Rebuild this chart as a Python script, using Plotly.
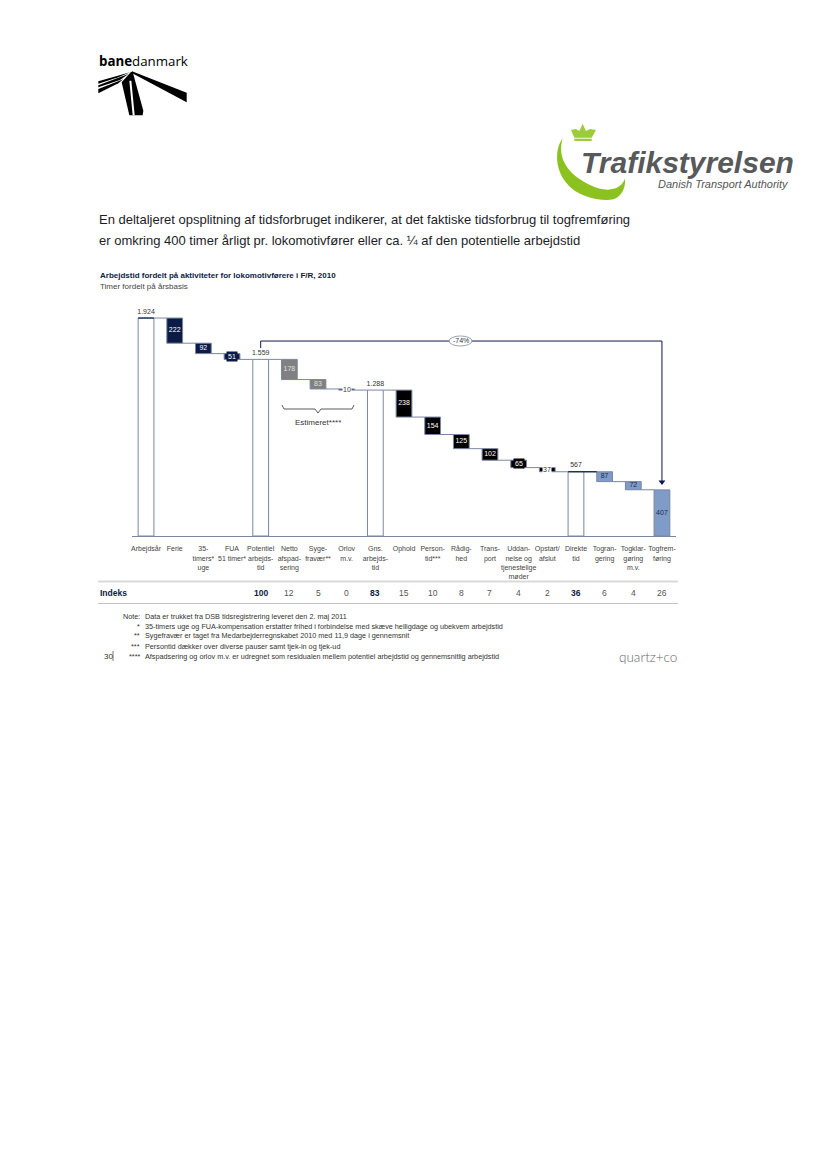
import plotly.graph_objects as go

W, H = 827, 1169
M = 8  # the page keeps its default body margin
FONT = "Liberation Sans"

categories = ["Arbejdsår", "Ferie", "35-<br>timers*<br>uge", "FUA<br>51 timer*", "Potentiel<br>arbejds-<br>tid",
              "Netto<br>afspad-<br>sering", "Syge-<br>fravær**", "Orlov<br>m.v.", "Gns.<br>arbejds-<br>tid",
              "Ophold", "Person-<br>tid***", "Rådig-<br>hed", "Trans-<br>port",
              "Uddan-<br>nelse og<br>tjenestelige<br>møder", "Opstart/<br>afslut", "Direkte<br>tid",
              "Togran-<br>gering", "Togklar-<br>gøring<br>m.v.", "Togfrem-<br>føring"]
values = [1924, 222, 92, 51, 1559, 178, 83, 10, 1288, 238, 154, 125, 102, 65, 37, 567, 87, 72, 407]
value_labels = ["1.924", "222", "92", "51", "1.559", "178", "83", "10", "1.288", "238", "154", "125",
                "102", "65", "37", "567", "87", "72", "407"]
kinds = ["total", "d", "d", "d", "total", "d", "d", "d", "total", "d", "d", "d", "d", "d", "d", "total", "d", "d", "blue"]
index_values = ["", "", "", "", "100", "12", "5", "0", "83", "15", "10", "8", "7", "4", "2", "36", "6", "4", "26"]
bold_index = {"100", "83", "36"}
arrow_label = "-74%"
notes = [("Note:", "Data er trukket fra DSB tidsregistrering leveret den 2. maj 2011"),
         ("*", "35-timers uge og FUA-kompensation erstatter frihed i forbindelse med skæve helligdage og ubekvem arbejdstid"),
         ("**", "Sygefravær er taget fra Medarbejderregnskabet 2010 med 11,9 dage i gennemsnit"),
         ("***", "Persontid dækker over diverse pauser samt tjek-in og tjek-ud"),
         ("****", "Afspadsering og orlov m.v. er udregnet som residualen mellem potentiel arbejdstid og gennemsnitlig arbejdstid")]

NAVY, BLACK, GREY, BLUE, EDGE = "#0b1b45", "#000000", "#808080", "#7f9bc8", "#7a86a0"
colors = (["#ffffff"] + [NAVY] * 3 + ["#ffffff"] + [GREY] * 2 + [NAVY] + ["#ffffff"] + [BLACK] * 6 +
          ["#ffffff"] + [BLUE] * 3)
txtcol = {0: "#333333", 4: "#333333", 8: "#333333", 15: "#333333", 16: "#1a2a50", 17: "#1a2a50", 18: "#1a2a50",
          5: "#e0e0e0", 6: "#e0e0e0"}

# running levels
tops, bases, levels = [], [], []
level = 0
for v, k in zip(values, kinds):
    if k == "d":
        tops.append(level); bases.append(level - v); level -= v
    else:
        tops.append(v); bases.append(0); level = v
    levels.append(level)
xs = list(range(len(values)))
BW = 0.55

def px(x): return (x - M) / (W - 2 * M)
def py(y): return 1 - (y - M) / (H - 2 * M)

fig = go.Figure()
# connectors
cx, cy = [], []
for i in xs[:-1]:
    cx += [i + BW / 2, i + 1 - BW / 2, None]
    cy += [levels[i], levels[i], None]
fig.add_trace(go.Scatter(x=cx, y=cy, mode="lines", line=dict(color=EDGE, width=1), hoverinfo="skip", showlegend=False))
fig.add_trace(go.Bar(x=xs, y=[t - b for t, b in zip(tops, bases)], base=bases, width=BW,
                     marker=dict(color=colors, line=dict(color=EDGE, width=1)), showlegend=False))
# dark caps on the first total and on the direct-time total
capx, capy = [], []
for i, extend in ((0, 0), (15, 1)):
    capx += [i - BW / 2, i + BW / 2 + extend * (1 - BW), None]
    capy += [values[i], values[i], None]
fig.add_trace(go.Scatter(x=capx, y=capy, mode="lines", line=dict(color=NAVY, width=1.2), hoverinfo="skip", showlegend=False))
# arrow
top_y = 1721
fig.add_trace(go.Scatter(x=[4, 4, 18, 18], y=[1659, top_y, top_y, 476], mode="lines",
                         line=dict(color=NAVY, width=1), hoverinfo="skip", showlegend=False))
fig.add_trace(go.Scatter(x=[18], y=[476], mode="markers", marker=dict(symbol="triangle-down", size=6, color=NAVY),
                         hoverinfo="skip", showlegend=False))
# labels
tx, ty, tt, tc = [], [], [], []
for i in xs:
    if i in (3, 7, 13, 14):
        continue
    if kinds[i] == "total":
        ty.append(values[i] + 55)
    else:
        ty.append((tops[i] + bases[i]) / 2)
    tx.append(i); tt.append(value_labels[i]); tc.append(txtcol.get(i, "#ffffff"))
fig.add_trace(go.Scatter(x=tx, y=ty, mode="text", text=tt, textposition="middle center", cliponaxis=False,
                         textfont=dict(family=FONT, size=7, color=tc), hoverinfo="skip", showlegend=False))

ann, shapes = [], []
def txt(x, y, s, size=7, color="#333333", anchor="left", **kw):
    ann.append(dict(x=px(x), y=py(y), xref="paper", yref="paper", text=s, showarrow=False, xanchor=anchor,
                    yanchor="middle", align=anchor, borderpad=0, font=dict(family=kw.pop("family", FONT), size=size, color=color), **kw))
def boxed(i, bg, fg, pad):
    ann.append(dict(x=i, y=(tops[i] + bases[i]) / 2, xref="x", yref="y", text=value_labels[i], showarrow=False,
                    bgcolor=bg, borderpad=pad, font=dict(family=FONT, size=7, color=fg)))
boxed(3, NAVY, "#ffffff", 1); boxed(7, "#ffffff", "#333333", 0); boxed(13, BLACK, "#ffffff", 1); boxed(14, "#ffffff", "#333333", 0)

# title + subtitle
txt(98, 220, "En deltaljeret opsplitning af tidsforbruget indikerer, at det faktiske tidsforbrug til togfremføring", 13, "#1c1c28")
txt(98, 240, "er omkring 400 timer årligt pr. lokomotivfører eller ca. ¼ af den potentielle arbejdstid", 13, "#1c1c28")
txt(99, 275, "<b>Arbejdstid fordelt på aktiviteter for lokomotivførere i F/R, 2010</b>", 8, "#0b1b45")
txt(99, 286, "Timer fordelt på årsbasis", 8, "#444444")
# bracket
txt(318, 422, "Estimeret****", 8, "#333333", anchor="center")
def path(points, close=True):
    s = "M " + " L ".join(f"{px(x):.5f} {py(y):.5f}" for x, y in points)
    return s + (" Z" if close else "")
shapes.append(dict(type="path", xref="paper", yref="paper", line=dict(color="#333333", width=0.8),
                   path=path([(282, 405), (284, 409), (315, 409), (318, 413), (321, 409), (352, 409), (354, 405)], False)))
# ellipse
shapes.append(dict(type="circle", xref="paper", yref="paper", x0=px(449), x1=px(472), y0=py(336), y1=py(346),
                   fillcolor="#ffffff", line=dict(color="#808a9c", width=0.8), layer="above"))
txt(460.5, 341, arrow_label, 7, "#333333", anchor="center")
# index row
shapes.append(dict(type="line", xref="paper", yref="paper", x0=px(98), x1=px(678), y0=py(581.5), y1=py(581.5), line=dict(color="#d9d9d9", width=2)))
shapes.append(dict(type="line", xref="paper", yref="paper", x0=px(98), x1=px(678), y0=py(603.5), y1=py(603.5), line=dict(color="#c4c4c4", width=1)))
txt(99, 593, "<b>Indeks</b>", 8.5, "#0b1b45")
for i, s in zip(xs, index_values):
    if s:
        ann.append(dict(x=i, xref="x", y=py(593), yref="paper", showarrow=False, yanchor="middle",
                        text=f"<b>{s}</b>" if s in bold_index else s,
                        font=dict(family=FONT, size=8.5, color="#0b1b45" if s in bold_index else "#555555")))
# notes
for (m, s), y in zip(notes, [616, 626, 636, 646, 656]):
    txt(141, y, m, 7.25, "#333333", anchor="right")
    txt(143.5, y, s, 7.25, "#333333")
txt(103, 656, "30", 8, "#333333")
shapes.append(dict(type="line", xref="paper", yref="paper", x0=px(113), x1=px(113), y0=py(651), y1=py(661), line=dict(color="#555555", width=0.8)))
txt(678, 657, "quartz+co", 13.5, "#666666", anchor="right", family="Lato Light, Lato")

# banedanmark logo (zoom coordinates of the crop at 90,40, scale 3)
def bz(p): return [(90 + x / 3, 40 + y / 3) for x, y in p]
for poly in ([(126, 94), (290, 158), (290, 187), (124, 98)],
             [(122, 97), (128, 95), (160, 212), (158, 226), (118, 226), (95, 127)],
             [(120, 97), (25, 124), (25, 131), (85, 112)],
             [(115, 102), (25, 136), (25, 142), (90, 120)],
             [(100, 118), (25, 147), (25, 160), (85, 130)]):
    shapes.append(dict(type="path", xref="paper", yref="paper", path=path(bz(poly)), fillcolor="#000000", line=dict(width=0)))
shapes.append(dict(type="path", xref="paper", yref="paper", path=path(bz([(118, 122), (124, 122), (134, 226), (128, 226)])),
                   fillcolor="#ffffff", line=dict(width=0)))
txt(98, 61, "<b>bane</b>danmark", 13.3, "#000000", family="Open Sans")

# Trafikstyrelsen logo (crop at 540,115, scale 3)
def tz(x, y): return f"{px(540 + x / 3):.5f} {py(115 + y / 3):.5f}"
GREEN = "#8cc21f"
swoosh = (f"M {tz(68, 70)} C {tz(30, 120)} {tz(50, 250)} {tz(200, 255)} C {tz(240, 257)} {tz(258, 225)} {tz(255, 190)} "
          f"C {tz(245, 225)} {tz(200, 235)} {tz(150, 210)} C {tz(85, 180)} {tz(50, 130)} {tz(68, 70)} Z")
shapes.append(dict(type="path", xref="paper", yref="paper", path=swoosh, fillcolor=GREEN, line=dict(width=0)))
crown = [(103, 68), (93, 45), (108, 42), (118, 48), (128, 26), (138, 48), (150, 42), (168, 45), (155, 68)]
shapes.append(dict(type="path", xref="paper", yref="paper",
                   path="M " + " L ".join(tz(x, y) for x, y in crown) + " Z", fillcolor="#9ccb3b", line=dict(width=0)))
shapes.append(dict(type="path", xref="paper", yref="paper",
                   path="M " + " L ".join(tz(x, y) for x, y in [(103, 71), (155, 71), (155, 78), (103, 78)]) + " Z",
                   fillcolor="#9ccb3b", line=dict(width=0)))
txt(580, 163, "<b><i>Trafikstyrelsen</i></b>", 30, "#58595b")
txt(657, 184, "<i>Danish Transport Authority</i>", 11, "#555555")

fig.update_layout(
    width=W - 2 * M, height=H - 2 * M, margin=dict(l=0, r=0, t=0, b=0), paper_bgcolor="#ffffff", plot_bgcolor="#ffffff",
    showlegend=False, annotations=ann, shapes=shapes, barmode="overlay",
    font=dict(family=FONT),
    xaxis=dict(domain=[px(132), px(676)], range=[-0.49, 18.49], tickmode="array", tickvals=xs, ticktext=categories,
               tickfont=dict(family=FONT, size=7, color="#444444"), ticks="", showgrid=False, zeroline=False,
               showline=True, linecolor=EDGE, linewidth=1, ticklabelstandoff=6, tickangle=0, automargin=False),
    yaxis=dict(domain=[py(536), py(310)], range=[0, 1995], visible=False, showgrid=False, zeroline=False, automargin=False),
)
fig.write_html("out.html")
